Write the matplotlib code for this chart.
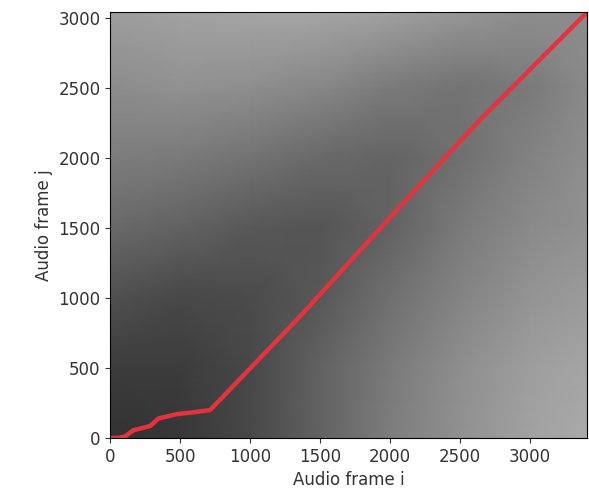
import numpy as np
import matplotlib.pyplot as plt

grid_i = [0, 500, 1000, 1500, 2000, 2500, 3000, 3410]
grid_j = [0, 500, 1000, 1500, 2000, 2500, 3040]

# gray level (0-255) at each node, rows = grid_j, cols = grid_i
gray = [
    [50, 55, 72, 98, 125, 145, 162, 170],
    [60, 60, 72, 98, 122, 142, 158, 165],
    [80, 72, 75, 88, 112, 132, 148, 155],
    [105, 98, 88, 85, 98, 122, 138, 145],
    [125, 122, 115, 105, 100, 112, 130, 142],
    [140, 145, 142, 135, 122, 115, 122, 138],
    [158, 162, 165, 165, 160, 150, 142, 140],
]

# warping path
path_i = [0, 60, 107, 167, 286, 345, 476, 600, 714, 1355, 2060, 2643, 3214, 3357, 3410]
path_j = [0, 2, 12, 57, 86, 140, 171, 185, 200, 866, 1640, 2271, 2843, 2986, 3040]

fig = plt.figure(figsize=(5.89, 4.99), dpi=100)
ax = fig.add_axes([0.187, 0.122, 0.810, 0.854])

ax.pcolormesh(grid_i, grid_j, np.array(gray), shading="gouraud", cmap="gray", vmin=0, vmax=255)
ax.plot(path_i, path_j, color="#e5333d", linewidth=3.2, solid_capstyle="round")

ax.set_xlim(0, 3410)
ax.set_ylim(0, 3040)
ax.set_xticks([0, 500, 1000, 1500, 2000, 2500, 3000])
ax.set_yticks([0, 500, 1000, 1500, 2000, 2500, 3000])
ax.tick_params(labelsize=12, colors="#333333")
ax.set_xlabel("Audio frame i", fontsize=12, color="#333333")
ax.set_ylabel("Audio frame j", fontsize=12, color="#333333")

fig.savefig("out.png")
plt.close(fig)
